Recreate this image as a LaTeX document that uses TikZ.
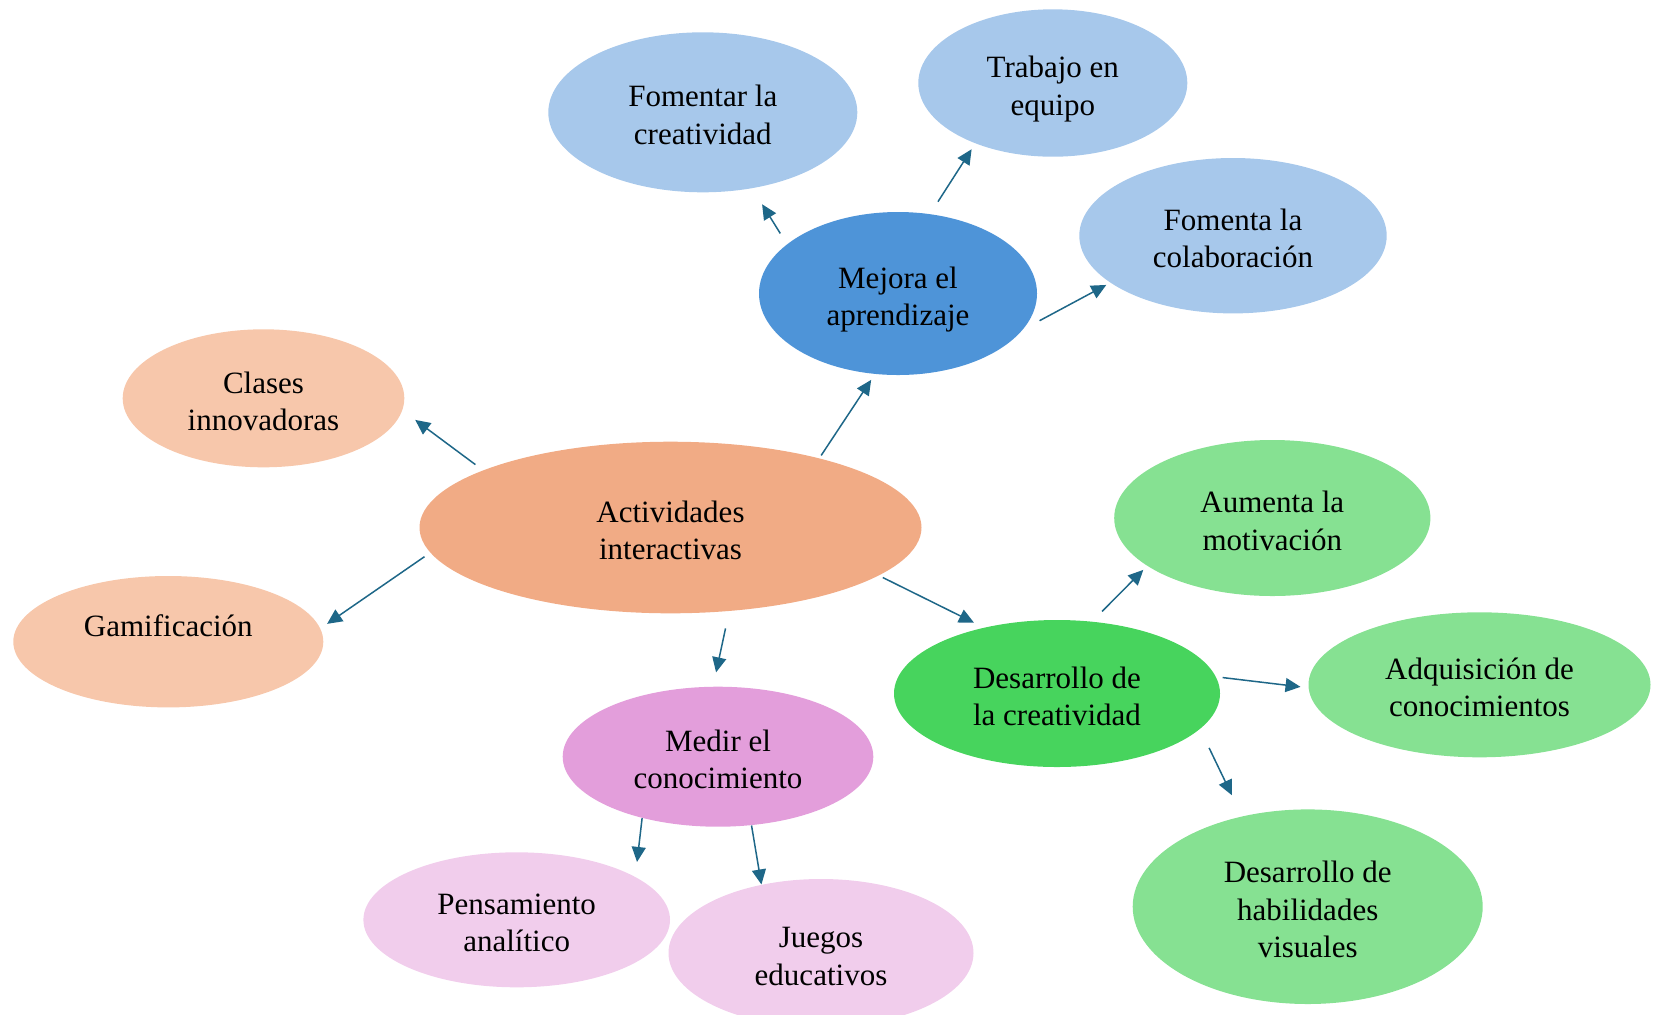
\documentclass[tikz,border=0pt]{standalone}
\usepackage{fontspec}
\setmainfont{Liberation Serif}
\usetikzlibrary{shapes.geometric,arrows.meta}
\definecolor{cAct}{HTML}{F1AB85}
\definecolor{cPeach}{HTML}{F7C7AB}
\definecolor{cMej}{HTML}{4E94D8}
\definecolor{cBlue}{HTML}{A7C8EB}
\definecolor{cDes}{HTML}{47D45D}
\definecolor{cGreen}{HTML}{86E192}
\definecolor{cMed}{HTML}{E39EDB}
\definecolor{cPink}{HTML}{F1CDEC}
\definecolor{arrc}{HTML}{1E6788}
\newcommand\bubtext[1]{\begin{tabular}{@{}c@{}}\rule{0pt}{19pt}#1\end{tabular}}
\begin{document}
\begin{tikzpicture}[x=0.5pt,y=-0.5pt,
  bub/.style={ellipse,inner sep=0pt,text=black,
    font=\fontsize{15.5}{18.7}\selectfont},
  arr/.style={draw=arrc,line width=0.75pt,-{Triangle[length=7.5pt,width=7pt]}}]
\path[use as bounding box] (0,0) rectangle (1654,1014);

\node[bub,fill=cAct,minimum width=251pt,minimum height=85.8pt] (act) at (670.5,527.5) {\bubtext{Actividades\\interactivas}};
\node[bub,fill=cMej,minimum width=139pt,minimum height=81.5pt] (mej) at (898,293.5) {\bubtext{Mejora el\\aprendizaje}};
\node[bub,fill=cBlue,minimum width=154.5pt,minimum height=80pt] (fom) at (702.8,112.3) {\bubtext{Fomentar la\\creatividad}};
\node[bub,fill=cBlue,minimum width=134.5pt,minimum height=73.7pt] (tra) at (1052.8,83) {\bubtext{Trabajo en\\equipo}};
\node[bub,fill=cBlue,minimum width=153.7pt,minimum height=77.7pt] (col) at (1233,235.7) {\bubtext{Fomenta la\\colaboración}};
\node[bub,fill=cPeach,minimum width=140.8pt,minimum height=69pt] (cla) at (263.5,398.3) {\bubtext{Clases\\innovadoras}};
\node[bub,fill=cPeach,minimum width=155pt,minimum height=65.7pt] (gam) at (168.3,641.7) {\bubtext{Gamificación\\ \mbox{}}};
\node[bub,fill=cMed,minimum width=155.3pt,minimum height=70pt] (med) at (718,756.7) {\bubtext{Medir el\\conocimiento}};
\node[bub,fill=cPink,minimum width=153.3pt,minimum height=67.5pt] (pen) at (516.7,919.8) {\bubtext{Pensamiento\\analítico}};
\node[bub,fill=cPink,minimum width=152.5pt,minimum height=74pt] (jue) at (821,953) {\bubtext{Juegos\\educativos}};
\node[bub,fill=cDes,minimum width=163pt,minimum height=73.5pt] (des) at (1057,693.5) {\bubtext{Desarrollo de\\la creatividad}};
\node[bub,fill=cGreen,minimum width=158.1pt,minimum height=78pt] (aum) at (1272.3,518) {\bubtext{Aumenta la\\motivación}};
\node[bub,fill=cGreen,minimum width=171pt,minimum height=72.5pt] (adq) at (1479.5,684.8) {\bubtext{Adquisición de\\conocimientos}};
\node[bub,fill=cGreen,minimum width=175pt,minimum height=97.3pt] (hab) at (1307.7,906.7) {\bubtext{Desarrollo de\\habilidades\\visuales}};

\draw[arr,shorten <=4.65pt,shorten >=7.9pt] (act.163.5) -- (cla.-5.8);
\draw[arr,shorten <=3.45pt,shorten >=4pt] (act.186.3) -- (gam.5.3);
\draw[arr,shorten <=1.6pt,shorten >=3.35pt] (act.25.7) -- (mej.254.6);
\draw[arr,shorten <=8.75pt,shorten >=7.15pt] (act.-55.6) -- (med.94.4);
\draw[arr,shorten <=2.1pt,shorten >=5.4pt] (act.-13.4) -- (des.138.5);
\draw[arr,shorten <=6.25pt,shorten >=9.3pt] (mej.156.4) -- (fom.-57);
\draw[arr,shorten <=7.2pt,shorten >=3.35pt] (mej.68.6) -- (tra.218.6);
\draw[arr,shorten <=9.25pt,shorten >=2.2pt] (mej.-16.2) -- (col.201.2);
\draw[arr,shorten <=7pt,shorten >=2.7pt] (des.64.8) -- (aum.201.7);
\draw[arr,shorten <=3.25pt,shorten >=3.9pt] (des.6.2) -- (adq.181);
\draw[arr,shorten <=10.35pt,shorten >=11.65pt] (des.-14.6) -- (hab.126.9);
\draw[arr,shorten >=7.4pt] (med.219.2) -- (pen.20.3);
\draw[arr] (med.-64.2) -- (jue.131.3);
\end{tikzpicture}
\end{document}
